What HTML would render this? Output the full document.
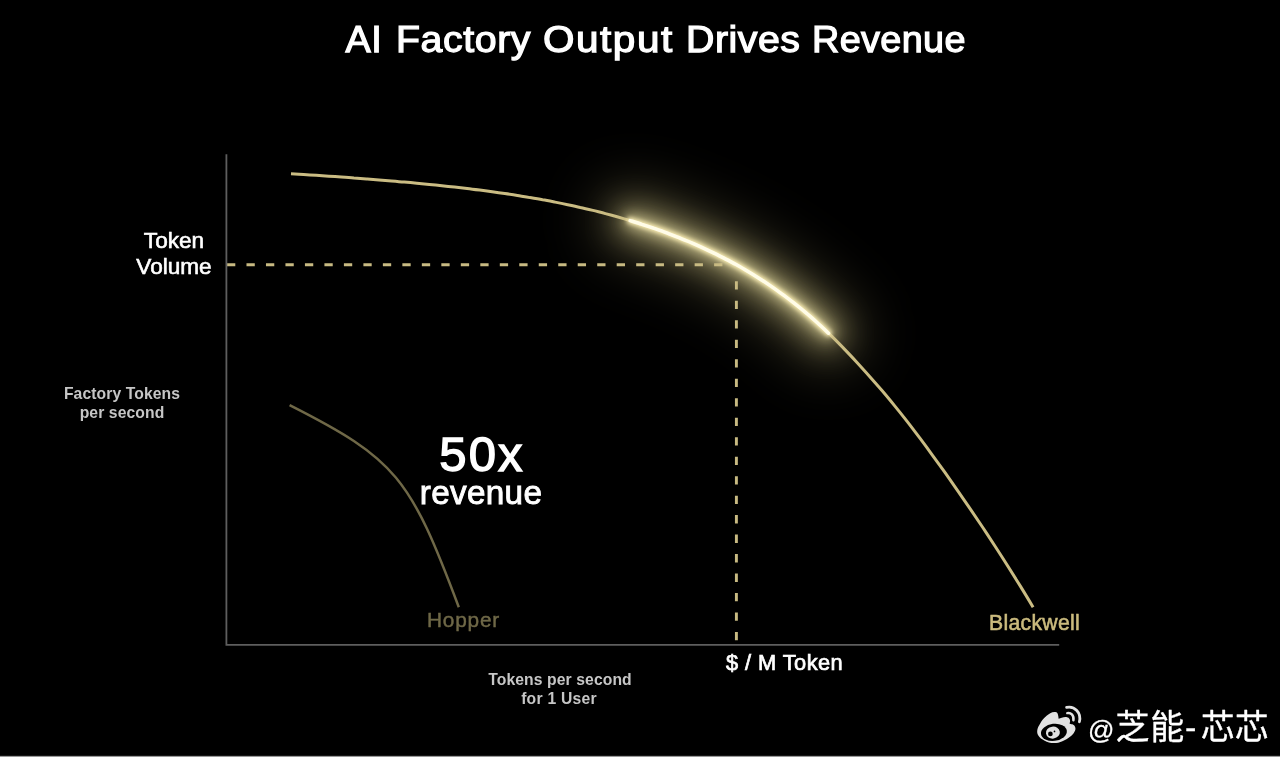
<!DOCTYPE html>
<html lang="en">
<head>
<meta charset="utf-8">
<title>AI Factory Output Drives Revenue</title>
<style>
  html, body { margin: 0; padding: 0; background: #000; }
  body { width: 1280px; height: 757px; position: relative; overflow: hidden;
         font-family: "Liberation Sans", sans-serif; color: #fff; }
  #chart { position: absolute; left: 0; top: 0; width: 1280px; height: 757px; display: block; }
  .t { position: absolute; white-space: nowrap; line-height: 1; margin: 0; will-change: transform; }
  .c { transform: translateX(-50%); text-align: center; }
  .title  { left: 345px; top: 21.1px; width: 630px; height: 40px; font-size: 37.8px; letter-spacing: 1.42px; -webkit-text-stroke: 1.25px #fff; }
  .title span { position: absolute; top: 0; display: inline-block; transform-origin: 0 0; }
  .tv     { left: 174px; font-size: 22.6px; -webkit-text-stroke: 0.6px #fff; }
  .small  { font-size: 15.7px; font-weight: 700; letter-spacing: 0.1px; color: #c6c6c6; }
  .big    { left: 481.5px; top: 430px; font-size: 49px; letter-spacing: 2.1px; -webkit-text-stroke: 1.4px #fff; }
  .rev    { left: 481.4px; top: 476px; font-size: 33.3px; letter-spacing: 0.3px; -webkit-text-stroke: 0.9px #fff; }
  .hopper { left: 427px; top: 609.7px; font-size: 20.8px; letter-spacing: 0.8px; color: #6f6847; -webkit-text-stroke: 0.45px #6f6847; }
  .bwell  { left: 988.6px; top: 611.5px; font-size: 21.2px; letter-spacing: 0.3px; color: #cbbb7e; -webkit-text-stroke: 0.55px #cbbb7e; }
  .mtok   { left: 726px; top: 652px; font-size: 21.8px; letter-spacing: 0.44px; -webkit-text-stroke: 0.7px #fff; }
  #edge   { position: absolute; left: 0; top: 755px; width: 1280px; height: 2px;
            background: linear-gradient(#161616 0, #161616 50%, #989898 50%, #989898 100%); }
</style>
</head>
<body>
<svg id="chart" viewBox="0 0 1280 757" width="1280" height="757">
  <defs>
    <filter id="glowWide" x="-60%" y="-120%" width="220%" height="340%" color-interpolation-filters="sRGB">
      <feGaussianBlur stdDeviation="15"/>
    </filter>
    <filter id="glowXWide" x="-80%" y="-160%" width="260%" height="420%" color-interpolation-filters="sRGB">
      <feGaussianBlur stdDeviation="26"/>
    </filter>
    <filter id="glowMid" x="-30%" y="-60%" width="160%" height="220%" color-interpolation-filters="sRGB">
      <feGaussianBlur stdDeviation="6.5"/>
    </filter>
    <filter id="glowTight" x="-20%" y="-40%" width="140%" height="180%" color-interpolation-filters="sRGB">
      <feGaussianBlur stdDeviation="2"/>
    </filter>
    <filter id="soft" x="-10%" y="-20%" width="120%" height="140%" color-interpolation-filters="sRGB">
      <feGaussianBlur stdDeviation="0.7"/>
    </filter>
  </defs>

  <!-- glow behind highlighted segment -->
  <g fill="none" stroke-linecap="round">
    <path d="M630.2 220.6 C632.1 221.2 638.0 223.0 641.9 224.3 C645.8 225.5 649.6 226.8 653.5 228.2 C657.4 229.5 661.3 230.9 665.2 232.3 C669.1 233.8 673.0 235.2 676.9 236.8 C680.7 238.3 684.6 239.9 688.5 241.5 C692.4 243.2 696.3 244.9 700.2 246.6 C704.1 248.4 708.0 250.2 711.9 252.1 C715.7 253.9 719.6 255.9 723.5 257.9 C727.4 259.9 731.3 262.0 735.2 264.1 C739.1 266.3 743.0 268.5 746.8 270.8 C750.7 273.1 754.6 275.5 758.5 278.0 C762.4 280.4 766.3 283.0 770.2 285.6 C774.1 288.3 778.0 291.0 781.8 293.9 C785.7 296.7 789.6 299.7 793.5 302.7 C797.4 305.8 801.3 308.9 805.2 312.2 C809.1 315.4 812.9 318.8 816.8 322.3 C820.7 325.8 826.6 331.4 828.5 333.2" stroke="#2e2b1c" stroke-width="76" filter="url(#glowXWide)"/>
    <path d="M630.2 220.6 C632.1 221.2 638.0 223.0 641.9 224.3 C645.8 225.5 649.6 226.8 653.5 228.2 C657.4 229.5 661.3 230.9 665.2 232.3 C669.1 233.8 673.0 235.2 676.9 236.8 C680.7 238.3 684.6 239.9 688.5 241.5 C692.4 243.2 696.3 244.9 700.2 246.6 C704.1 248.4 708.0 250.2 711.9 252.1 C715.7 253.9 719.6 255.9 723.5 257.9 C727.4 259.9 731.3 262.0 735.2 264.1 C739.1 266.3 743.0 268.5 746.8 270.8 C750.7 273.1 754.6 275.5 758.5 278.0 C762.4 280.4 766.3 283.0 770.2 285.6 C774.1 288.3 778.0 291.0 781.8 293.9 C785.7 296.7 789.6 299.7 793.5 302.7 C797.4 305.8 801.3 308.9 805.2 312.2 C809.1 315.4 812.9 318.8 816.8 322.3 C820.7 325.8 826.6 331.4 828.5 333.2" stroke="#736c48" stroke-width="30" filter="url(#glowWide)" style="mix-blend-mode:screen"/>
    <path d="M630.2 220.6 C632.1 221.2 638.0 223.0 641.9 224.3 C645.8 225.5 649.6 226.8 653.5 228.2 C657.4 229.5 661.3 230.9 665.2 232.3 C669.1 233.8 673.0 235.2 676.9 236.8 C680.7 238.3 684.6 239.9 688.5 241.5 C692.4 243.2 696.3 244.9 700.2 246.6 C704.1 248.4 708.0 250.2 711.9 252.1 C715.7 253.9 719.6 255.9 723.5 257.9 C727.4 259.9 731.3 262.0 735.2 264.1 C739.1 266.3 743.0 268.5 746.8 270.8 C750.7 273.1 754.6 275.5 758.5 278.0 C762.4 280.4 766.3 283.0 770.2 285.6 C774.1 288.3 778.0 291.0 781.8 293.9 C785.7 296.7 789.6 299.7 793.5 302.7 C797.4 305.8 801.3 308.9 805.2 312.2 C809.1 315.4 812.9 318.8 816.8 322.3 C820.7 325.8 826.6 331.4 828.5 333.2" stroke="#a09664" stroke-width="12" filter="url(#glowMid)" style="mix-blend-mode:screen"/>
  </g>

  <!-- dashed guide lines -->
  <g fill="none" stroke="#c8ba82" stroke-width="2.9" stroke-dasharray="8.3 11.185">
    <path d="M227 264.7 H724"/>
    <path d="M736.4 281.3 V645"/>
  </g>

  <!-- axes -->
  <g fill="none" stroke="#5e5e5e" stroke-width="1.8">
    <path d="M226.4 154.3 V644.9 H1059.2"/>
  </g>

  <!-- Hopper curve -->
  <path d="M289.6 405.1 C396.3 459.1 410.2 477.5 458.8 607.2" fill="none" stroke="#6f6847" stroke-width="2.5"/>

  <!-- Blackwell curve -->
  <path d="M291.0 173.7 C293.1 173.8 299.4 174.2 303.6 174.5 C307.8 174.8 312.0 175.0 316.2 175.3 C320.3 175.6 324.5 175.9 328.7 176.2 C332.9 176.5 337.1 176.7 341.3 177.0 C345.5 177.3 349.7 177.6 353.9 178.0 C358.1 178.3 362.3 178.6 366.5 178.9 C370.7 179.2 374.9 179.6 379.0 179.9 C383.2 180.2 387.4 180.6 391.6 180.9 C395.8 181.3 400.0 181.7 404.2 182.0 C408.4 182.4 412.6 182.8 416.8 183.2 C421.0 183.6 425.2 184.0 429.4 184.4 C433.6 184.8 437.7 185.3 441.9 185.7 C446.1 186.2 450.3 186.6 454.5 187.1 C458.7 187.6 462.9 188.0 467.1 188.5 C471.3 189.1 475.5 189.6 479.7 190.1 C483.9 190.6 488.1 191.2 492.2 191.8 C496.4 192.4 500.6 193.0 504.8 193.6 C509.0 194.2 513.2 194.8 517.4 195.5 C521.6 196.2 525.8 196.8 530.0 197.6 C534.2 198.3 538.4 199.0 542.6 199.8 C546.8 200.5 550.9 201.3 555.1 202.1 C559.3 203.0 563.5 203.8 567.7 204.7 C571.9 205.6 576.1 206.5 580.3 207.5 C584.5 208.4 588.7 209.4 592.9 210.4 C597.1 211.5 601.3 212.5 605.4 213.6 C609.6 214.7 613.8 215.9 618.0 217.0 C622.2 218.2 626.4 219.5 630.6 220.7 C634.8 222.0 639.0 223.3 643.2 224.7 C647.4 226.0 651.6 227.5 655.8 228.9 C660.0 230.4 664.1 231.9 668.3 233.5 C672.5 235.1 676.7 236.7 680.9 238.4 C685.1 240.1 689.3 241.8 693.5 243.7 C697.7 245.5 701.9 247.4 706.1 249.3 C710.3 251.3 714.5 253.3 718.7 255.4 C722.8 257.5 727.0 259.7 731.2 262.0 C735.4 264.2 739.6 266.6 743.8 269.0 C748.0 271.5 752.2 274.0 756.4 276.6 C760.6 279.3 764.8 282.0 769.0 284.8 C773.2 287.7 777.3 290.6 781.5 293.7 C785.7 296.7 789.9 299.9 794.1 303.2 C798.3 306.5 802.5 309.9 806.7 313.5 C810.9 317.0 815.1 320.7 819.3 324.5 C823.5 328.4 827.7 332.3 831.9 336.4 C836.0 340.5 840.2 344.7 844.4 349.1 C848.6 353.4 852.8 357.9 857.0 362.4 C861.2 367.0 865.4 371.6 869.6 376.4 C873.8 381.1 878.0 385.9 882.2 390.8 C886.4 395.7 890.5 400.7 894.7 405.9 C898.9 411.0 903.1 416.3 907.3 421.7 C911.5 427.1 915.7 432.7 919.9 438.2 C924.1 443.8 928.3 449.5 932.5 455.3 C936.7 461.0 940.9 466.8 945.1 472.7 C949.2 478.6 953.4 484.6 957.6 490.6 C961.8 496.6 966.0 502.7 970.2 508.9 C974.4 515.0 978.6 521.2 982.8 527.5 C987.0 533.9 991.2 540.2 995.4 546.7 C999.6 553.1 1003.8 559.7 1007.9 566.3 C1012.1 572.9 1016.3 579.6 1020.5 586.4 C1024.7 593.2 1031.0 603.7 1033.1 607.2" fill="none" stroke="#cabc83" stroke-width="3"/>

  <!-- highlighted segment -->
  <g fill="none" stroke-linecap="round">
    <path d="M630.2 220.6 C632.1 221.2 638.0 223.0 641.9 224.3 C645.8 225.5 649.6 226.8 653.5 228.2 C657.4 229.5 661.3 230.9 665.2 232.3 C669.1 233.8 673.0 235.2 676.9 236.8 C680.7 238.3 684.6 239.9 688.5 241.5 C692.4 243.2 696.3 244.9 700.2 246.6 C704.1 248.4 708.0 250.2 711.9 252.1 C715.7 253.9 719.6 255.9 723.5 257.9 C727.4 259.9 731.3 262.0 735.2 264.1 C739.1 266.3 743.0 268.5 746.8 270.8 C750.7 273.1 754.6 275.5 758.5 278.0 C762.4 280.4 766.3 283.0 770.2 285.6 C774.1 288.3 778.0 291.0 781.8 293.9 C785.7 296.7 789.6 299.7 793.5 302.7 C797.4 305.8 801.3 308.9 805.2 312.2 C809.1 315.4 812.9 318.8 816.8 322.3 C820.7 325.8 826.6 331.4 828.5 333.2" stroke="#fff2b8" stroke-width="6.5" filter="url(#glowTight)"/>
    <path d="M630.2 220.6 C632.1 221.2 638.0 223.0 641.9 224.3 C645.8 225.5 649.6 226.8 653.5 228.2 C657.4 229.5 661.3 230.9 665.2 232.3 C669.1 233.8 673.0 235.2 676.9 236.8 C680.7 238.3 684.6 239.9 688.5 241.5 C692.4 243.2 696.3 244.9 700.2 246.6 C704.1 248.4 708.0 250.2 711.9 252.1 C715.7 253.9 719.6 255.9 723.5 257.9 C727.4 259.9 731.3 262.0 735.2 264.1 C739.1 266.3 743.0 268.5 746.8 270.8 C750.7 273.1 754.6 275.5 758.5 278.0 C762.4 280.4 766.3 283.0 770.2 285.6 C774.1 288.3 778.0 291.0 781.8 293.9 C785.7 296.7 789.6 299.7 793.5 302.7 C797.4 305.8 801.3 308.9 805.2 312.2 C809.1 315.4 812.9 318.8 816.8 322.3 C820.7 325.8 826.6 331.4 828.5 333.2" stroke="#fffce8" stroke-width="3.5" filter="url(#soft)"/>
  </g>

  <!-- weibo watermark -->
  <g id="weibo" fill="#e2e2e2">
    <title>@芝能-芯芯</title>
    <path d="M1055.4 712 C1052 711.6 1049 713.6 1046.6 715.8 C1044 718 1041.8 720.6 1040.2 723.4 C1038.8 725.6 1037.6 727.8 1037.3 730 C1037 732 1037.3 734 1038.3 735.6 C1039.6 737.8 1041.9 739.4 1044.7 740.7 C1047.4 742 1050.4 743 1053.5 743.1 C1056.6 743.2 1059.6 742.4 1062.4 741.2 C1065.2 740 1067.9 738.6 1070 736.8 C1071.9 735.3 1073.5 733.6 1074.5 731.7 C1075.2 730.4 1075.6 729.2 1075.4 727.9 C1075.2 726.5 1074.4 725.4 1073.2 724.7 C1072.2 724.1 1070.8 724.2 1069.7 723.8 C1069.5 722.8 1070.2 721.9 1070.1 720.9 C1070 719.9 1069.7 719 1069.1 718.4 C1068.4 717.6 1067.3 717.1 1066.2 717 C1064.7 716.8 1063.2 717.3 1061.8 717.7 C1060.7 718 1059.7 718.6 1058.6 718.7 C1058.5 717.5 1058.4 716.3 1058.1 715.2 C1057.9 714.4 1057.7 713.6 1057.3 713 C1056.9 712.4 1056.2 712.1 1055.4 712 Z"/>
    <ellipse cx="1053.9" cy="732.3" rx="13" ry="8.5" fill="#000" transform="rotate(-7 1053.9 732.3)"/>
    <ellipse cx="1052.9" cy="732.6" rx="7" ry="6" transform="rotate(-8 1052.9 732.6)"/>
    <circle cx="1050.4" cy="733.9" r="2.35" fill="#000"/>
    <circle cx="1054.5" cy="731.4" r="0.85" fill="#000"/>
    <path d="M1067.3 713.1 C1070.6 712.3 1074.2 715.2 1073.4 720.2" fill="none" stroke="#e2e2e2" stroke-width="2.5" stroke-linecap="round"/>
    <path d="M1066.6 707.4 C1074.5 705.6 1081.6 712.5 1079.4 721.8" fill="none" stroke="#e2e2e2" stroke-width="2.8" stroke-linecap="round"/>
  </g>
  <g id="wmtext" fill="#ffffff" stroke="#ffffff" stroke-width="0.3" stroke-linejoin="round">
    <text x="1088 1115.4 1150.2 1185 1200.8 1234.7" y="738.5" font-size="34" font-family='"Liberation Sans", "Noto Sans CJK SC", sans-serif'><tspan font-size="26">@</tspan>芝能-芯芯</text>
  </g>
</svg>

<div class="t title"><span style="left:0.5px;letter-spacing:0.5px">AI</span> <span style="left:51px;letter-spacing:0.55px;transform:scaleX(1.04)">Factory</span> <span style="left:198.3px;letter-spacing:1.45px;transform:scaleX(1.07)">Output</span> <span style="left:341px;letter-spacing:0.5px;transform:scaleX(1.04)">Drives</span> <span style="left:467px;letter-spacing:0.35px">Revenue</span></div>

<div class="t c tv" style="top:229.5px">Token</div>
<div class="t c tv" style="top:255.5px">Volume</div>

<div class="t c small" style="left:121.7px;top:385.5px">Factory Tokens</div>
<div class="t c small" style="left:121.7px;top:404.8px">per second</div>

<div class="t c big">50x</div>
<div class="t c rev">revenue</div>

<div class="t hopper">Hopper</div>
<div class="t bwell">Blackwell</div>
<div class="t mtok">$ / M Token</div>

<div class="t c small" style="left:559.5px;top:672.2px">Tokens per second</div>
<div class="t c small" style="left:559.1px;top:691.2px;letter-spacing:0.25px">for 1 User</div>

<div id="edge"></div>
</body>
</html>
